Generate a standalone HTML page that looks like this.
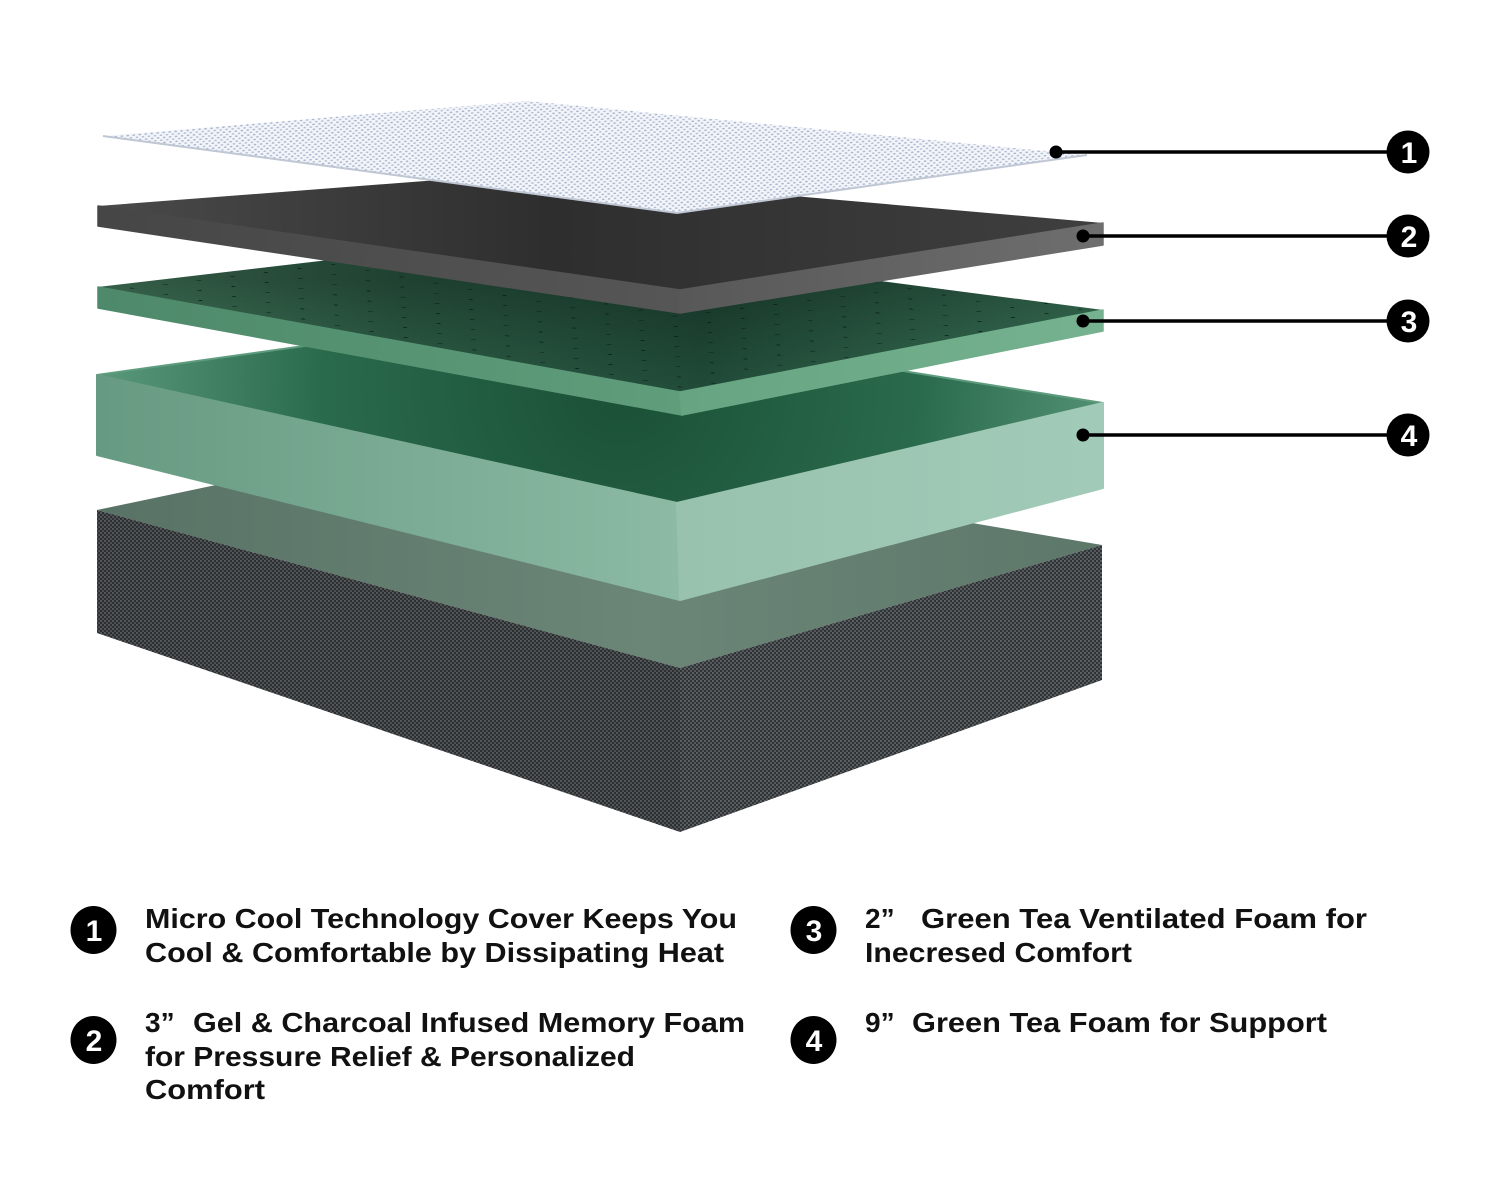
<!DOCTYPE html>
<html>
<head>
<meta charset="utf-8">
<style>
  html, body { margin:0; padding:0; background:#ffffff; }
  body { width:1500px; height:1200px; overflow:hidden; }
  svg { display:block; }
  .lg { font-family:"Liberation Sans", Arial, sans-serif; font-weight:bold; font-size:28px; fill:#111111; }
  .num { font-family:"Liberation Sans", Arial, sans-serif; font-weight:bold; font-size:30px; fill:#ffffff; }
</style>
</head>
<body>
<svg width="1500" height="1200" viewBox="0 0 1500 1200" xmlns="http://www.w3.org/2000/svg">
  <defs>
    <pattern id="mesh" patternUnits="userSpaceOnUse" width="6" height="5" patternTransform="rotate(-5)">
      <rect width="6" height="5" fill="#f3f5fa"/>
      <ellipse cx="1.5" cy="1.2" rx="1.4" ry="0.85" fill="#a6b5cc"/>
      <ellipse cx="4.5" cy="3.7" rx="1.4" ry="0.85" fill="#b2bed3"/>
    </pattern>
    <pattern id="fabric" patternUnits="userSpaceOnUse" width="4" height="4">
      <rect width="4" height="4" fill="#303335"/>
      <circle cx="1" cy="1" r="1.05" fill="#62676a"/>
      <circle cx="3" cy="3" r="1.05" fill="#5a5f62"/>
    </pattern>
    <pattern id="perf" patternUnits="userSpaceOnUse" width="20" height="20"
             patternTransform="matrix(1.712 0.309 1.677 -0.196 98 287)">
      <circle cx="10" cy="10" r="1.0" fill="#0b2218"/>
    </pattern>

    <linearGradient id="gGrayTop" gradientUnits="userSpaceOnUse" x1="98" y1="0" x2="1103" y2="0">
      <stop offset="0" stop-color="#4a4a4a"/>
      <stop offset="0.45" stop-color="#2e2e2e"/>
      <stop offset="1" stop-color="#3f3f3f"/>
    </linearGradient>
    <linearGradient id="gGrayL" gradientUnits="userSpaceOnUse" x1="98" y1="0" x2="680" y2="0">
      <stop offset="0" stop-color="#464646"/>
      <stop offset="1" stop-color="#565656"/>
    </linearGradient>
    <linearGradient id="gGrayR" gradientUnits="userSpaceOnUse" x1="680" y1="0" x2="1103" y2="0">
      <stop offset="0" stop-color="#585858"/>
      <stop offset="1" stop-color="#6e6e6e"/>
    </linearGradient>

    <linearGradient id="g3Top" gradientUnits="userSpaceOnUse" x1="98" y1="0" x2="1103" y2="0">
      <stop offset="0" stop-color="#4c8868"/>
      <stop offset="0.3" stop-color="#2e6048"/>
      <stop offset="0.6" stop-color="#214c39"/>
      <stop offset="1" stop-color="#3d7b5d"/>
    </linearGradient>
    <linearGradient id="g3Shade" gradientUnits="userSpaceOnUse" x1="0" y1="280" x2="0" y2="392">
      <stop offset="0" stop-color="#000000" stop-opacity="0.32"/>
      <stop offset="1" stop-color="#000000" stop-opacity="0"/>
    </linearGradient>
    <linearGradient id="g3L" gradientUnits="userSpaceOnUse" x1="98" y1="0" x2="680" y2="0">
      <stop offset="0" stop-color="#4d896a"/>
      <stop offset="1" stop-color="#5f9d7b"/>
    </linearGradient>
    <linearGradient id="g3R" gradientUnits="userSpaceOnUse" x1="680" y1="0" x2="1103" y2="0">
      <stop offset="0" stop-color="#66a482"/>
      <stop offset="1" stop-color="#76b290"/>
    </linearGradient>

    <radialGradient id="g4Top" gradientUnits="userSpaceOnUse" cx="620" cy="385" r="540">
      <stop offset="0" stop-color="#1a5036"/>
      <stop offset="0.55" stop-color="#2a6a4c"/>
      <stop offset="1" stop-color="#5e9c7e"/>
    </radialGradient>
    <linearGradient id="g4L" gradientUnits="userSpaceOnUse" x1="97" y1="0" x2="680" y2="0">
      <stop offset="0" stop-color="#679a82"/>
      <stop offset="1" stop-color="#8cbaa4"/>
    </linearGradient>
    <linearGradient id="g4R" gradientUnits="userSpaceOnUse" x1="680" y1="0" x2="1103" y2="0">
      <stop offset="0" stop-color="#98c2ae"/>
      <stop offset="1" stop-color="#a2cab8"/>
    </linearGradient>

    <linearGradient id="g5Top" gradientUnits="userSpaceOnUse" x1="97" y1="0" x2="1102" y2="0">
      <stop offset="0" stop-color="#587265"/>
      <stop offset="0.55" stop-color="#6b8577"/>
      <stop offset="1" stop-color="#5d776a"/>
    </linearGradient>
  </defs>

  <rect width="1500" height="1200" fill="#ffffff"/>

  <!-- Layer 5 : base -->
  <polygon points="97,510 454,435 1102,545 680,668" fill="url(#g5Top)"/>
  <polygon points="97,510 680,668 680,832 97,633" fill="url(#fabric)"/>
  <polygon points="97,510 680,668 680,832 97,633" fill="#000" opacity="0.08"/>
  <polygon points="680,668 1102,545 1102,680 680,832" fill="url(#fabric)"/>

  <!-- Layer 4 : green block -->
  <polygon points="97,375 540,313 1103,403 677,503" fill="url(#g4Top)" stroke="#5e9c7e" stroke-width="2" stroke-linejoin="round"/>
  <polygon points="97,375 677,503 680,600 97,455" fill="url(#g4L)" stroke="url(#g4L)" stroke-width="2" stroke-linejoin="round"/>
  <polygon points="677,503 1103,403 1103,488 680,600" fill="url(#g4R)" stroke="url(#g4R)" stroke-width="2" stroke-linejoin="round"/>

  <!-- Layer 3 : green ventilated -->
  <polygon points="98,287 534,236 1103,310 680,392" fill="url(#g3Top)"/>
  <polygon points="98,287 534,236 1103,310 680,392" fill="url(#g3Shade)"/>
  <polygon points="98,287 534,236 1103,310 680,392" fill="url(#perf)"/>
  <polygon points="98,287 680,392 682,415 98,308" fill="url(#g3L)" stroke="url(#g3L)" stroke-width="1.5" stroke-linejoin="round"/>
  <polygon points="680,392 1103,310 1103,331 682,415" fill="url(#g3R)" stroke="url(#g3R)" stroke-width="1.5" stroke-linejoin="round"/>

  <!-- Layer 2 : gray memory foam -->
  <polygon points="98,206 530,173 1103,223 680,290" fill="url(#gGrayTop)"/>
  <polygon points="98,206 680,290 680,313 98,226" fill="url(#gGrayL)" stroke="url(#gGrayL)" stroke-width="1.5" stroke-linejoin="round"/>
  <polygon points="680,290 1103,223 1103,245 680,313" fill="url(#gGrayR)" stroke="url(#gGrayR)" stroke-width="1.5" stroke-linejoin="round"/>

  <!-- Layer 1 : cover -->
  <polygon points="103,136 528,101 1087,155 677,213" fill="url(#mesh)"/>
  <polyline points="103,136 677,213 1087,155" fill="none" stroke="#bfc7d4" stroke-width="2"/>

  <!-- Callouts -->
  <g stroke="#000" stroke-width="3.5">
    <line x1="1056" y1="152" x2="1392" y2="152"/>
    <line x1="1083" y1="236" x2="1392" y2="236"/>
    <line x1="1083" y1="321" x2="1392" y2="321"/>
    <line x1="1083" y1="435" x2="1392" y2="435"/>
  </g>
  <g fill="#000">
    <circle cx="1056" cy="152" r="6.5"/>
    <circle cx="1083" cy="236" r="6.5"/>
    <circle cx="1083" cy="321" r="6.5"/>
    <circle cx="1083" cy="435" r="6.5"/>
    <circle cx="1408" cy="152" r="21.5"/>
    <circle cx="1408" cy="236" r="21.5"/>
    <circle cx="1408" cy="321" r="21.5"/>
    <circle cx="1408" cy="435" r="21.5"/>
  </g>
  <g text-anchor="middle">
    <text x="1409" y="163" class="num">1</text>
    <text x="1409" y="247" class="num">2</text>
    <text x="1409" y="332" class="num">3</text>
    <text x="1409" y="446" class="num">4</text>
  </g>

  <!-- Legend -->
  <g fill="#000">
    <ellipse cx="93.5" cy="930" rx="23" ry="24"/>
    <ellipse cx="93.5" cy="1040" rx="23" ry="24"/>
    <ellipse cx="813.5" cy="930" rx="23" ry="24"/>
    <ellipse cx="813.5" cy="1040" rx="23" ry="24"/>
  </g>
  <g text-anchor="middle">
    <text x="94" y="941" class="num">1</text>
    <text x="94" y="1051" class="num">2</text>
    <text x="814" y="941" class="num">3</text>
    <text x="814" y="1051" class="num">4</text>
  </g>

  <text class="lg" x="145" y="928" textLength="592" lengthAdjust="spacingAndGlyphs">Micro Cool Technology Cover Keeps You</text>
  <text class="lg" x="145" y="962" textLength="579" lengthAdjust="spacingAndGlyphs">Cool &amp; Comfortable by Dissipating Heat</text>

  <text class="lg" x="145" y="1032">3”</text>
  <text class="lg" x="193" y="1032" textLength="552" lengthAdjust="spacingAndGlyphs">Gel &amp; Charcoal Infused Memory Foam</text>
  <text class="lg" x="145" y="1066" textLength="490" lengthAdjust="spacingAndGlyphs">for Pressure Relief &amp; Personalized</text>
  <text class="lg" x="145" y="1099" textLength="120" lengthAdjust="spacingAndGlyphs">Comfort</text>

  <text class="lg" x="865" y="928">2”</text>
  <text class="lg" x="921" y="928" textLength="446" lengthAdjust="spacingAndGlyphs">Green Tea Ventilated Foam for</text>
  <text class="lg" x="865" y="962" textLength="267" lengthAdjust="spacingAndGlyphs">Inecresed Comfort</text>

  <text class="lg" x="865" y="1032">9”</text>
  <text class="lg" x="912" y="1032" textLength="415" lengthAdjust="spacingAndGlyphs">Green Tea Foam for Support</text>
</svg>
</body>
</html>
